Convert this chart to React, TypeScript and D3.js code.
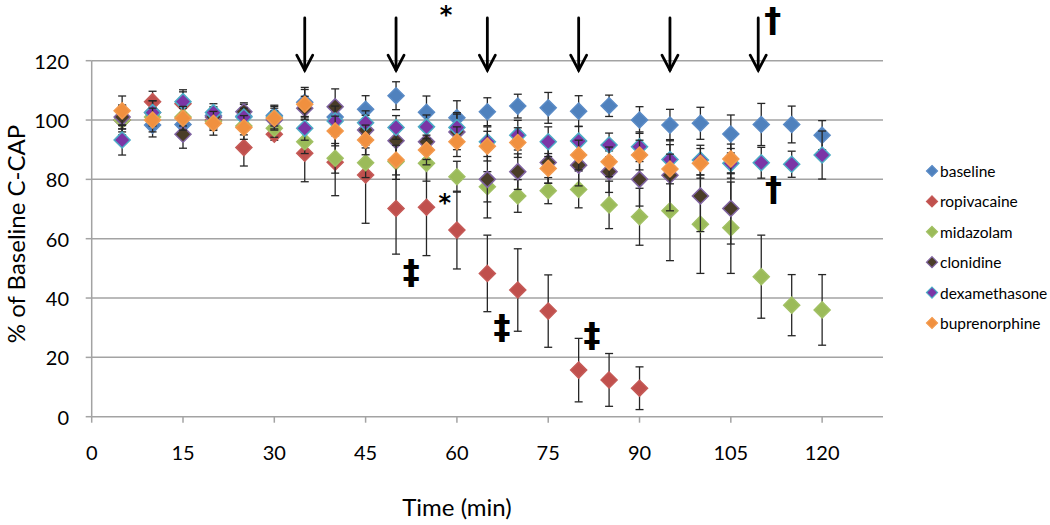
import React from 'react';
import * as d3 from 'd3';

// ---------- data ----------
const times = [5, 10, 15, 20, 25, 30, 35, 40, 45, 50, 55, 60, 65, 70, 75, 80, 85, 90, 95, 100, 105, 110, 115, 120];
const xTicks = [0, 15, 30, 45, 60, 75, 90, 105, 120];
const yTicks = [0, 20, 40, 60, 80, 100, 120];

const seriesNames = ['baseline', 'ropivacaine', 'midazolam', 'clonidine', 'dexamethasone', 'buprenorphine'];

const baseline = [100, 98.3, 98.5, 101.5, 101.3, 101.5, 106, 101, 103.6, 108.2, 102.6, 100.8, 102.8, 104.7, 104.1, 103, 104.8, 100, 98.3, 98.9, 95.3, 98.5, 98.5, 94.9];
const baselineErr = [5, 4, 4, 3, 4, 3.5, 5, 4, 4.6, 4.7, 5.5, 5.7, 4.7, 4, 5.2, 5.2, 3.6, 4.5, 5.3, 5.4, 6.4, 7.1, 6.2, 4.9];

const ropivacaine = [100, 106.2, 105.5, 100, 90.7, 95.2, 88.8, 85.8, 81.5, 70.2, 70.6, 62.9, 48.3, 42.7, 35.6, 15.7, 12.4, 9.6];
const ropivacaineErr = [4, 3.5, 4, 3, 6.2, 2, 9.6, 11.3, 16.3, 15.4, 16.3, 13.1, 12.9, 13.9, 12.2, 10.7, 8.9, 7.2];

const midazolam = [100, 101, 101, 99.5, 98, 97.2, 92.7, 87.1, 85.6, 86, 85.4, 80.9, 77.5, 74.4, 76.2, 76.6, 71.4, 67.4, 69.4, 64.9, 63.7, 47.2, 37.6, 36];
const midazolamErr = [3, 3, 3, 3, 3, 3, 4, 5, 5, 6, 6, 5.2, 5.1, 5.5, 4.4, 6.2, 8, 9.6, 16.8, 16.6, 15.4, 14, 10.3, 11.9];

const clonidine = [101, 102.5, 95.2, 101, 102.8, 100, 104, 104.5, 96.6, 93, 92.7, 96, 80, 82.6, 85.7, 84.8, 82.6, 80, 81.4, 74.4, 70.2];
const clonidineErr = [4, 4, 4.7, 3, 3, 3, 4, 6, 5, 6, 6, 6, 13, 6, 7, 7, 7, 9, 12, 12, 12];

const dexamethasone = [93.3, 102.5, 106.2, 102.5, 101, 101, 97.2, 99.7, 99.1, 97.5, 97.7, 97.5, 92.7, 94.9, 92.7, 92.9, 91.6, 91, 86.7, 86.5, 85.4, 85.6, 85.1, 88.2];
const dexamethasoneErr = [5.1, 4, 4, 3, 3, 3, 4, 5, 4, 4, 4, 5, 5, 5, 5, 5, 4, 5, 5, 5, 5, 5.2, 4.4, 8.1];

const buprenorphine = [103.1, 100, 100.6, 98.9, 97.5, 100.6, 105.3, 96.3, 93.3, 86.5, 89.9, 92.7, 91.2, 92.4, 83.7, 88.2, 85.9, 88.2, 83.5, 85.4, 86.9];
const buprenorphineErr = [5, 4, 4, 4, 4, 4, 5, 5, 5, 5, 5, 5, 5, 5, 5, 5, 5, 5, 5, 5, 5];

// annotations (time, value positions)
const arrowTimes = [35, 50, 65, 80, 95, 109.5];
const arrowTop = 134.4;
const arrowBottom = 116.8;
const symbolNotes = [
  { s: '*', t: 58.2, v: 135.5 },
  { s: '*', t: 58, v: 72 },
  { s: '‡', t: 52.5, v: 48.7 },
  { s: '‡', t: 67.4, v: 30.2 },
  { s: '‡', t: 82.2, v: 27.5 },
  { s: '†', t: 111.9, v: 133.7 },
  { s: '†', t: 112, v: 76.7 },
];

// ---------- styles ----------
const fills = ['#4F81BD', '#C0504D', '#9BBB59', '#4A3D28', '#7B35A6', '#F0903F'];
const strokes = ['#5A8BC6', '#C55A57', '#A2C165', '#8064A2', '#4BACC6', '#F39A4E'];

const W = 1050;
const H = 525;
const FONT = 'Lato, "Open Sans", sans-serif';

export default function App() {
  const x = d3.scaleLinear().domain([0, 130]).range([91.7, 883]);
  const y = d3.scaleLinear().domain([0, 120]).range([416.7, 60.7]);

  const values = [baseline, ropivacaine, midazolam, clonidine, dexamethasone, buprenorphine];
  const errs = [baselineErr, ropivacaineErr, midazolamErr, clonidineErr, dexamethasoneErr, buprenorphineErr];

  const series = seriesNames.map((name, i) => ({
    name,
    fill: fills[i],
    stroke: strokes[i],
    points: values[i].map((v, j) => ({ t: times[j], v, e: errs[i][j] })),
  }));

  const diamond = (cx: number, cy: number, r: number) =>
    `M${cx},${cy - r}L${cx + r},${cy}L${cx},${cy + r}L${cx - r},${cy}Z`;

  const [x0, x1] = x.range();
  const gridColor = '#A3A3A3';

  return (
    <svg width={W} height={H} style={{ position: 'absolute', left: 0, top: 0, background: '#fff' }} fontFamily={FONT}>
      <rect x={0} y={0} width={W} height={H} fill="#fff" />
      {/* gridlines */}
      {yTicks.map((t) => (
        <line key={'g' + t} x1={x0} x2={x1} y1={y(t)} y2={y(t)} stroke={gridColor} strokeWidth={1.5} />
      ))}
      {/* y axis */}
      <line x1={x0} x2={x0} y1={y(120)} y2={y(0)} stroke={gridColor} strokeWidth={1.5} />
      {yTicks.map((t) => (
        <g key={'yt' + t}>
          <line x1={x0 - 6} x2={x0} y1={y(t)} y2={y(t)} stroke={gridColor} strokeWidth={1.5} />
          <text x={69} y={y(t)} textAnchor="end" dominantBaseline="central" fontSize={20} fill="#000">
            {t}
          </text>
        </g>
      ))}
      {/* x ticks */}
      {xTicks.map((t) => (
        <g key={'xt' + t}>
          <line x1={x(t)} x2={x(t)} y1={y(0)} y2={y(0) + 6} stroke={gridColor} strokeWidth={1.5} />
          <text x={x(t)} y={452} textAnchor="middle" dominantBaseline="central" fontSize={20} fill="#000">
            {t}
          </text>
        </g>
      ))}
      {/* axis titles */}
      <text x={457} y={506} textAnchor="middle" dominantBaseline="central" fontSize={24} fill="#000">
        Time (min)
      </text>
      <text
        transform={`translate(15,${234}) rotate(-90)`}
        textAnchor="middle"
        dominantBaseline="central"
        fontSize={24}
        fill="#000"
      >
        % of Baseline C-CAP
      </text>

      {/* series */}
      {series.map((s) => (
        <g key={s.name}>
          {s.points.map((p, j) => (
            <g key={'e' + j} stroke="#262626" strokeWidth={1.3}>
              <line x1={x(p.t)} x2={x(p.t)} y1={y(p.v + p.e)} y2={y(p.v - p.e)} />
              <line x1={x(p.t) - 4} x2={x(p.t) + 4} y1={y(p.v + p.e)} y2={y(p.v + p.e)} />
              <line x1={x(p.t) - 4} x2={x(p.t) + 4} y1={y(p.v - p.e)} y2={y(p.v - p.e)} />
            </g>
          ))}
          {s.points.map((p, j) => (
            <path key={'m' + j} d={diamond(x(p.t), y(p.v), 8)} fill={s.fill} stroke={s.stroke} strokeWidth={1.5} />
          ))}
        </g>
      ))}

      {/* arrows */}
      {arrowTimes.map((t, i) => {
        const ax = x(t);
        const yt = y(arrowTop);
        const yb = y(arrowBottom);
        return (
          <g key={'a' + i} stroke="#000" strokeWidth={2.8} fill="none" strokeLinecap="round">
            <line x1={ax} x2={ax} y1={yt} y2={yb} />
            <polyline points={`${ax - 8},${yb - 15} ${ax},${yb} ${ax + 8},${yb - 15}`} strokeLinejoin="miter" />
          </g>
        );
      })}

      {/* symbols */}
      {symbolNotes.map((n, i) => (
        <text
          key={'s' + i}
          x={x(n.t)}
          y={y(n.v)}
          textAnchor="middle"
          dominantBaseline="central"
          fontFamily='"DejaVu Sans", sans-serif'
          fontWeight="bold"
          fontSize={n.s === '*' ? 24 : 34}
          fill="#000"
        >
          {n.s}
        </text>
      ))}

      {/* legend */}
      {series.map((s, i) => {
        const ly = 171 + i * 30.4;
        return (
          <g key={'l' + s.name}>
            <path d={diamond(932, ly, 5.5)} fill={s.fill} stroke={s.stroke} strokeWidth={1.2} />
            <text x={940} y={ly} dominantBaseline="central" fontSize={15.5} fill="#000">
              {s.name}
            </text>
          </g>
        );
      })}
    </svg>
  );
}
